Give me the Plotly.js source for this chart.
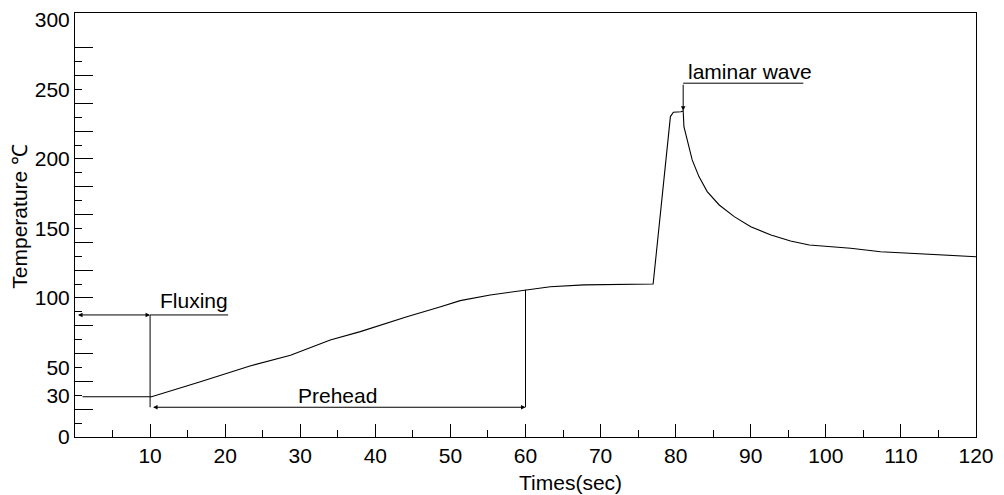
<!DOCTYPE html>
<html>
<head>
<meta charset="utf-8">
<script src="https://cdn.plot.ly/plotly-3.0.1.min.js"></script>
<style>html,body{margin:0;padding:0;background:#fff;}#chart{width:1004px;height:495px;}</style>
</head>
<body>
<div id="chart"></div>
<script>
// Reflow temperature profile
const timeSec = [1, 10.2, 16.7, 23.3, 28.7, 34, 38, 44.2, 48.7, 51.3, 55.3, 59.8, 63.3, 67.8, 77.0,
                 79.3, 79.7, 80.7, 81.0, 81.1, 81.6, 82.2, 83.1, 84.2, 85.8, 87.8, 90.0,
                 92.7, 95.3, 97.8, 103.3, 107.3, 120];
const tempC = [29, 29, 39.8, 51.1, 58.8, 69.8, 75.8, 86.5, 93.7, 98.1, 102.2, 105.8, 108.1, 109.4, 110.1,
               230.5, 233.6, 234, 234.7, 223.2, 211.3, 199.3, 187.3, 176.5, 166.9, 158.5, 151.3,
               145.3, 141.0, 138.1, 135.8, 133.3, 129.7];

const xTickVals = [10, 20, 30, 40, 50, 60, 70, 80, 90, 100, 110, 120];
const xTickText = ['10', '20', '30', '40', '50', '60', '70', '80', '90', '100', '110', '120'];
const yTickVals = [0, 30, 50, 100, 150, 200, 250, 300];
const yTickText = ['0', '30', '50', '100', '150', '200', '250', '300'];
const yLongTicks = [20, 40, 60, 80, 100, 120, 140, 160, 180, 200, 220, 240, 260, 280];
const yShortTicks = [10, 30, 50, 70, 90, 110, 130, 150, 170, 190, 210, 230, 250, 270];

// Process phases
const phaseNames = ['Fluxing', 'Prehead'];
const phaseStart = [0, 10];
const phaseEnd = [10, 60];
const peakLabel = 'laminar wave';

function interp(t) {
  for (let i = 0; i < timeSec.length - 1; i++) {
    if (t >= timeSec[i] && t <= timeSec[i + 1]) {
      const f = (t - timeSec[i]) / (timeSec[i + 1] - timeSec[i]);
      return tempC[i] + f * (tempC[i + 1] - tempC[i]);
    }
  }
  return tempC[tempC.length - 1];
}
const peakVal = Math.max(...tempC);
const peakTime = timeSec[tempC.indexOf(peakVal)];

const FONT = 'Arial, "Liberation Sans", sans-serif';
const fluxLevel = 87.8, preLevel = 21.4, lamLevel = 254.5;

const traces = [
  {x: timeSec, y: tempC, type: 'scatter', mode: 'lines', line: {color: '#000', width: 1.1},
   showlegend: false, hoverinfo: 'skip'},
  {x: timeSec, y: tempC, type: 'scatter', mode: 'lines', yaxis: 'y2', opacity: 0,
   line: {width: 0}, showlegend: false, hoverinfo: 'skip'},
  {x: timeSec, y: tempC, type: 'scatter', mode: 'lines', yaxis: 'y3', opacity: 0,
   line: {width: 0}, showlegend: false, hoverinfo: 'skip'}
];

const yRange = [0, 305];
const arrowBase = {xref: 'x', yref: 'y', axref: 'x', ayref: 'y', text: '', showarrow: true,
  arrowcolor: '#000', arrowwidth: 1, arrowhead: 2, arrowsize: 0.9, standoff: 0, startstandoff: 0};

const annotations = [
  Object.assign({}, arrowBase, {x: phaseEnd[0], y: fluxLevel, ax: phaseStart[0] + 0.2, ay: fluxLevel,
    arrowside: 'end+start', startarrowhead: 2, startarrowsize: 0.9}),
  Object.assign({}, arrowBase, {x: phaseEnd[1], y: preLevel, ax: phaseStart[1] + 0.2, ay: preLevel,
    arrowside: 'end+start', startarrowhead: 2, startarrowsize: 0.9}),
  Object.assign({}, arrowBase, {x: peakTime, y: peakVal, ax: peakTime, ay: lamLevel}),
  {xref: 'x', yref: 'y', x: 11, y: 98, xanchor: 'left', yanchor: 'middle', showarrow: false,
   text: phaseNames[0], font: {family: FONT, size: 21, color: '#000'}},
  {xref: 'x', yref: 'y', x: 34.9, y: 29.5, xanchor: 'center', yanchor: 'middle', showarrow: false,
   text: phaseNames[1], font: {family: FONT, size: 21, color: '#000'}},
  {xref: 'x', yref: 'y', x: 81.4, y: 263, xanchor: 'left', yanchor: 'middle', showarrow: false,
   text: peakLabel, font: {family: FONT, size: 21, color: '#000'}},
  {xref: 'paper', yref: 'paper', x: 0.55, y: -0.108, xanchor: 'center', yanchor: 'middle', showarrow: false,
   text: 'Times(sec)', font: {family: FONT, size: 21, color: '#000'}},
  {xref: 'paper', yref: 'paper', x: -0.062, y: 0.52, xanchor: 'center', yanchor: 'middle', showarrow: false,
   textangle: -90, text: 'Temperature ℃', font: {family: FONT, size: 21, color: '#000'}}
];

const lineStyle = {color: '#000', width: 1};
const shapes = [
  {type: 'line', xref: 'x', yref: 'y', x0: phaseEnd[0], x1: 20.4, y0: fluxLevel, y1: fluxLevel, line: lineStyle},
  {type: 'line', xref: 'x', yref: 'y', x0: phaseEnd[0], x1: phaseEnd[0], y0: fluxLevel, y1: preLevel, line: lineStyle},
  {type: 'line', xref: 'x', yref: 'y', x0: phaseEnd[1], x1: phaseEnd[1], y0: preLevel, y1: interp(phaseEnd[1]), line: lineStyle},
  {type: 'line', xref: 'x', yref: 'y', x0: peakTime, x1: 97, y0: lamLevel, y1: lamLevel, line: lineStyle}
];

const layout = {
  width: 1004, height: 495,
  margin: {l: 75, r: 28, t: 13, b: 58},
  paper_bgcolor: '#fff', plot_bgcolor: '#fff',
  font: {family: FONT, size: 21, color: '#000'},
  showlegend: false,
  xaxis: {
    range: [0, 120], tickmode: 'array', tickvals: xTickVals, ticktext: xTickText,
    ticks: 'inside', ticklen: 13, tickwidth: 1, tickcolor: '#000',
    minor: {tickmode: 'linear', tick0: 5, dtick: 10, ticks: 'inside', ticklen: 7, tickwidth: 1, tickcolor: '#000'},
    showline: true, linecolor: '#000', linewidth: 1, mirror: true,
    showgrid: false, zeroline: false, tickfont: {family: FONT, size: 21, color: '#000'}
  },
  yaxis: {
    range: yRange, tickmode: 'array', tickvals: yTickVals, ticktext: yTickText,
    ticks: '', showline: true, linecolor: '#000', linewidth: 1, mirror: true,
    showgrid: false, zeroline: false, tickfont: {family: FONT, size: 21, color: '#000'}
  },
  yaxis2: {
    overlaying: 'y', side: 'left', range: yRange, tickmode: 'array', tickvals: yLongTicks,
    ticks: 'inside', ticklen: 18, tickwidth: 1, tickcolor: '#000', showticklabels: false,
    showline: false, showgrid: false, zeroline: false
  },
  yaxis3: {
    overlaying: 'y', side: 'left', range: yRange, tickmode: 'array', tickvals: yShortTicks,
    ticks: 'inside', ticklen: 7, tickwidth: 1, tickcolor: '#000', showticklabels: false,
    showline: false, showgrid: false, zeroline: false
  },
  annotations: annotations,
  shapes: shapes
};

Plotly.newPlot('chart', traces, layout, {staticPlot: true, displayModeBar: false});
</script>
</body>
</html>
